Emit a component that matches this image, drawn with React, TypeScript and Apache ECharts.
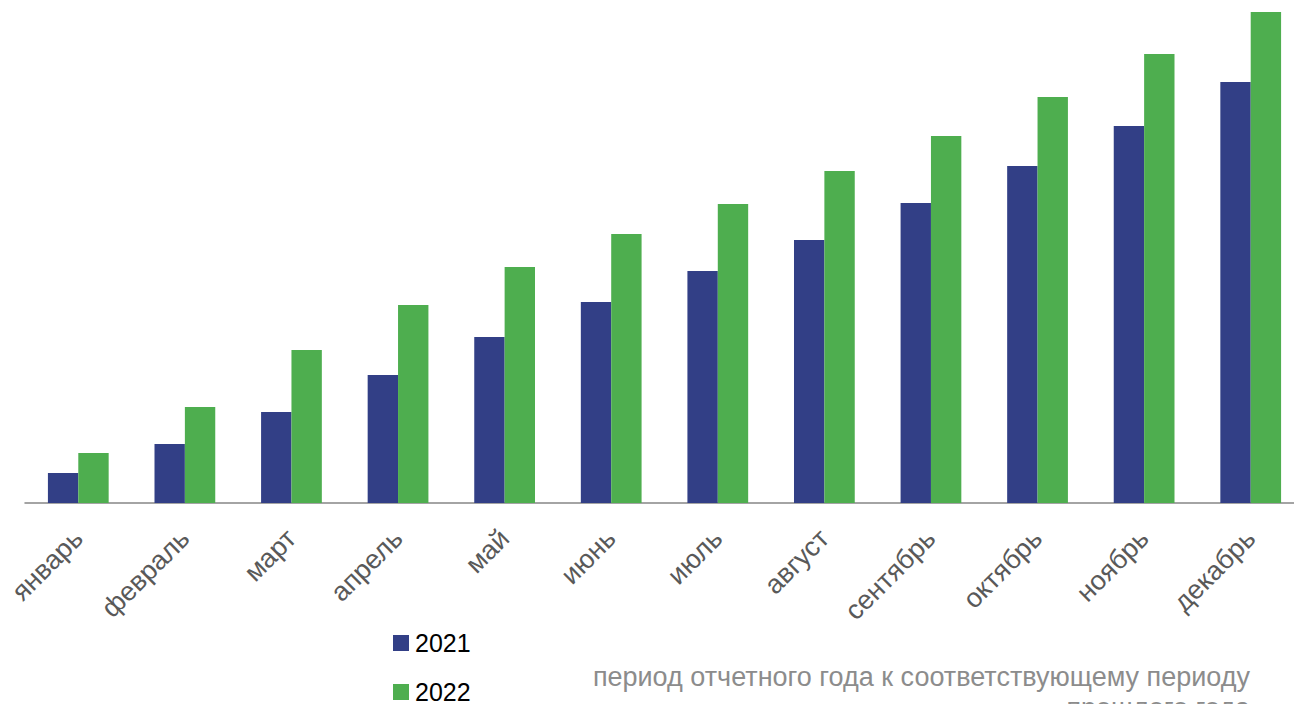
import React, { useEffect, useRef } from "react";
import * as echarts from "echarts";

const months = [
  "январь", "февраль", "март", "апрель", "май", "июнь",
  "июль", "август", "сентябрь", "октябрь", "ноябрь", "декабрь",
];
const series2021 = [30, 59, 91, 128, 166, 201, 232, 263, 300, 337, 377, 421];
const series2022 = [50, 96, 153, 198, 236, 269, 299, 332, 367, 406, 449, 491];
const seriesNames = ["2021", "2022"];
const seriesColors = ["#323F86", "#4EAE4F"];
const note1 = "период отчетного года к соответствующему периоду";
const note2 = "прошлого года";

export default function App() {
  const ref = useRef<HTMLDivElement>(null);
  useEffect(() => {
    if (!ref.current) return;
    const chart = echarts.init(ref.current, null, { renderer: "svg" });
    const legendItems = seriesNames.map((name, i) => ({
      type: "group",
      x: 393,
      y: 635 + i * 49,
      children: [
        {
          type: "rect",
          shape: { x: 0, y: 0, width: 16, height: 16 },
          style: { fill: seriesColors[i] },
        },
        {
          type: "text",
          x: 22,
          y: 8,
          style: {
            text: name,
            fontSize: 25,
            fill: "#000",
            fontFamily: "Liberation Sans",
            verticalAlign: "middle",
          },
        },
      ],
    }));
    chart.setOption({
      animation: false,
      grid: { left: 25, right: 0, top: 0, bottom: 201, containLabel: false },
      xAxis: {
        type: "category",
        data: months,
        axisLine: { lineStyle: { color: "#868686", width: 1.5 } },
        axisTick: { length: 8, lineStyle: { color: "#868686", width: 1.5 } },
        axisLabel: {
          rotate: 45,
          margin: 31,
          fontSize: 27,
          color: "#595959",
          fontFamily: "Liberation Sans",
          interval: 0,
        },
      },
      yAxis: { type: "value", min: 0, max: 503, show: false },
      series: [
        {
          name: seriesNames[0],
          type: "bar",
          data: series2021,
          barGap: "0%",
          barCategoryGap: "43%",
          itemStyle: { color: seriesColors[0] },
        },
        {
          name: seriesNames[1],
          type: "bar",
          data: series2022,
          barGap: "0%",
          barCategoryGap: "43%",
          itemStyle: { color: seriesColors[1] },
        },
      ],
      graphic: [
        ...legendItems,
        {
          type: "text",
          x: 1250,
          y: 677,
          style: {
            text: note1,
            fontSize: 27,
            fill: "#8c8c8c",
            fontFamily: "Liberation Sans",
            align: "right",
            verticalAlign: "middle",
          },
        },
        {
          type: "text",
          x: 1250,
          y: 708,
          style: {
            text: note2,
            fontSize: 27,
            fill: "#8c8c8c",
            fontFamily: "Liberation Sans",
            align: "right",
            verticalAlign: "middle",
          },
        },
      ],
    });
    return () => chart.dispose();
  }, []);
  return (
    <div
      style={{
        position: "fixed",
        left: 0,
        top: 0,
        width: 1294,
        height: 704,
        overflow: "hidden",
        background: "#fff",
      }}
    >
      <div ref={ref} style={{ width: 1304, height: 704 }} />
    </div>
  );
}
